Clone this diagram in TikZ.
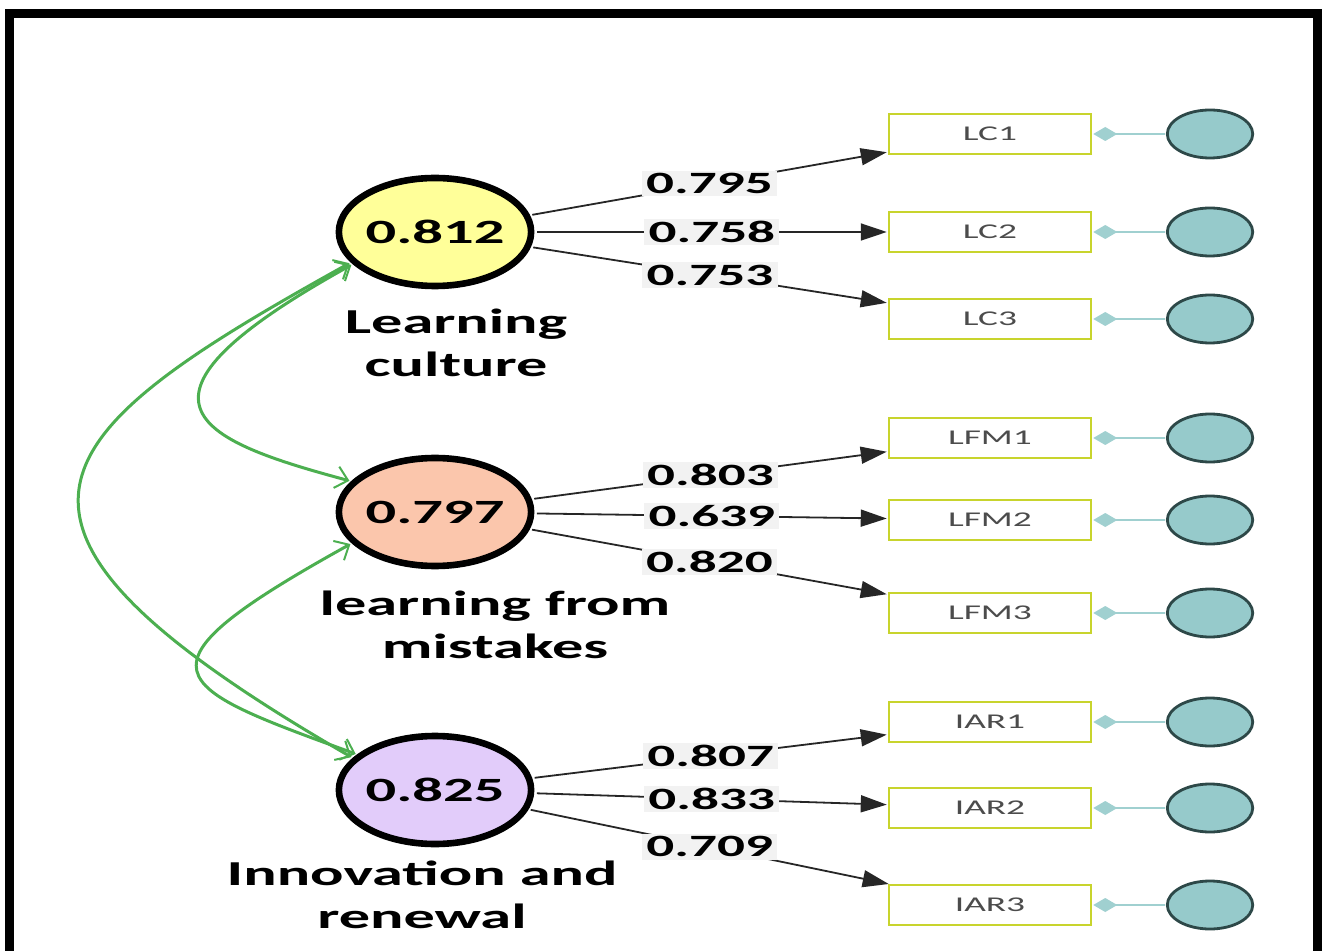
\documentclass[tikz,border=0pt]{standalone}
\usepackage{fontspec}
\setmainfont{Carlito}
\usepackage{xcolor}
\usepackage{tikz}
\usetikzlibrary{arrows.meta}
\definecolor{latY}{RGB}{255,255,153}
\definecolor{latR}{RGB}{251,198,172}
\definecolor{latV}{RGB}{226,204,250}
\definecolor{indBox}{RGB}{200,212,45}
\definecolor{errFill}{RGB}{150,202,203}
\definecolor{errLine}{RGB}{45,72,72}
\definecolor{errLink}{RGB}{160,208,208}
\definecolor{corrG}{RGB}{76,175,80}
\tikzset{
  wide/.style = {xscale=1.78},% the whole figure is stretched sideways
  lat_n/.style = {wide, circle, draw=black, line width=3.3pt,
    minimum size=54pt, inner sep=0pt, font=\fontsize{17}{20}\selectfont\bfseries},
  lat_y/.style = {lat_n, fill=latY},
  lat_r/.style = {lat_n, fill=latR},
  lat_v/.style = {lat_n, fill=latV},
  lat_t/.style = {wide, align=center, inner sep=0pt,
    font=\fontsize{17.5}{21.5}\selectfont\bfseries},% construct name
  ind_b/.style = {wide, rectangle, draw=indBox, line width=1pt, fill=white,
    minimum width=57pt, minimum height=20pt, text=black!70,
    font=\fontsize{10.5}{12}\selectfont},
  err_c/.style = {wide, circle, draw=errLine, fill=errFill, line width=1.4pt,
    minimum size=24pt, inner sep=0pt},
  err_l/.style = {draw=errLink, line width=1pt,
    {Diamond[fill=errLink,length=12pt,width=7pt]}-},
  load/.style = {draw=black!85, line width=0.9pt,
    -{Triangle[length=13pt,width=8.5pt]}},
  val/.style = {wide, fill=black!5, inner sep=1.2pt,
    font=\fontsize{15.5}{18}\selectfont\bfseries},
  corr/.style = {draw=corrG, line width=1.5pt,
    {Straight Barb[length=6pt,width=11pt,line width=1pt]}-{Straight Barb[length=6pt,width=11pt,line width=1pt]}}
}
\begin{document}
\begin{tikzpicture}[x=0.5pt,y=0.5pt]
\clip (0,0) rectangle (1326,-951);
\draw[line width=4.5pt] (9.5,-13.5) rectangle (1317.5,-970);% frame

% constructs
\node [lat_y] (LC) at (435,-232) {0.812};
\node [lat_r] (LFM) at (435,-512) {0.797};
\node [lat_v] (IAR) at (435,-790) {0.825};
\node [lat_t] (LCt) at (456,-343) {Learning\\culture};
\node [lat_t] (LFMt) at (495,-625) {learning from\\mistakes};
\node [lat_t] (IARt) at (422,-895) {Innovation and\\renewal};

% indicators
\node [ind_b] (LC1) at (990,-134) {LC1};
\node [ind_b] (LC2) at (990,-232) {LC2};
\node [ind_b] (LC3) at (990,-319) {LC3};
\node [ind_b] (LFM1) at (990,-438) {LFM1};
\node [ind_b] (LFM2) at (990,-520) {LFM2};
\node [ind_b] (LFM3) at (990,-613) {LFM3};
\node [ind_b] (IAR1) at (990,-722) {IAR1};
\node [ind_b] (IAR2) at (990,-808) {IAR2};
\node [ind_b] (IAR3) at (990,-905) {IAR3};

% error terms
\node [err_c] (eLC1) at (1210,-134) {};
\node [err_c] (eLC2) at (1210,-232) {};
\node [err_c] (eLC3) at (1210,-319) {};
\node [err_c] (eLFM1) at (1210,-438) {};
\node [err_c] (eLFM2) at (1210,-520) {};
\node [err_c] (eLFM3) at (1210,-613) {};
\node [err_c] (eIAR1) at (1210,-722) {};
\node [err_c] (eIAR2) at (1210,-808) {};
\node [err_c] (eIAR3) at (1210,-905) {};

\draw[err_l] (LC1) -- (eLC1);
\draw[err_l] (LC2) -- (eLC2);
\draw[err_l] (LC3) -- (eLC3);
\draw[err_l] (LFM1) -- (eLFM1);
\draw[err_l] (LFM2) -- (eLFM2);
\draw[err_l] (LFM3) -- (eLFM3);
\draw[err_l] (IAR1) -- (eIAR1);
\draw[err_l] (IAR2) -- (eIAR2);
\draw[err_l] (IAR3) -- (eIAR3);

% loadings
\draw[load] (LC) -- node[val] {0.795} (LC1);
\draw[load] (LC) -- node[val] {0.758} (LC2);
\draw[load] (LC) -- node[val] {0.753} (LC3);
\draw[load] (LFM) -- node[val] {0.803} (LFM1);
\draw[load] (LFM) -- node[val] {0.639} (LFM2);
\draw[load] (LFM) -- node[val] {0.820} (LFM3);
\draw[load] (IAR) -- node[val] {0.807} (IAR1);
\draw[load] (IAR) -- node[val] {0.833} (IAR2);
\draw[load] (IAR) -- node[val] {0.709} (IAR3);

% correlations
\draw[corr] (LC.215) .. controls +(209:280) and +(165:160) .. (LFM.147);
\draw[corr] (LC.213) .. controls +(209:360) and +(150:470) .. (IAR.145);
\draw[corr] (LFM.214) .. controls +(209:260) and +(160:200) .. (IAR.141);
\end{tikzpicture}
\end{document}
